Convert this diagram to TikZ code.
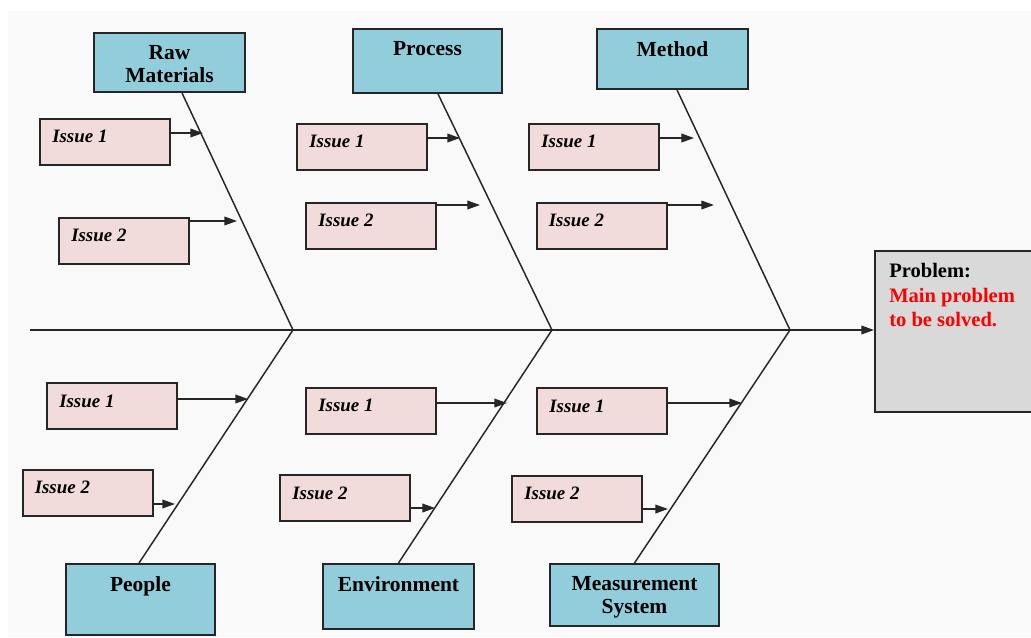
\documentclass[tikz,border=0pt]{standalone}
\usepackage{fontspec}
\setmainfont{Liberation Serif}
\usetikzlibrary{arrows.meta}
\definecolor{catblue}{HTML}{92CDDC}
\definecolor{issuepink}{HTML}{F2DCDB}
\definecolor{probgray}{HTML}{D9D9D9}
\definecolor{paper}{HTML}{F9F9F9}
\definecolor{ink}{HTML}{262626}
\definecolor{probred}{HTML}{FF0000}

\begin{document}
\begin{tikzpicture}[x=0.75pt,y=-0.75pt,
  box/.style={draw=ink, line width=1.5pt, inner sep=0pt, rectangle},
  catbox/.style={box, fill=catblue},
  issuebox/.style={box, fill=issuepink, minimum width=97.5pt, minimum height=34.5pt},
  cattext/.style={anchor=north, yshift=-9.75pt, inner sep=0pt, align=center,
    font=\fontsize{16.1pt}{17.25pt}\selectfont\bfseries},
  issuetext/.style={anchor=north west, xshift=9.75pt, yshift=-9.5pt, inner sep=0pt,
    font=\fontsize{14.2pt}{17pt}\selectfont\bfseries\itshape},
  probtext/.style={anchor=north west, xshift=11.25pt, yshift=-9.75pt, inner sep=0pt,
    align=left, font=\fontsize{15.4pt}{18.4pt}\selectfont\bfseries},
  bone/.style={draw=ink, line width=1.1pt},
  feed/.style={draw=ink, line width=1.1pt, -{Triangle[length=9.5pt,width=6.5pt]}},
]
\useasboundingbox (0,0) rectangle (1031,637);
\clip (0,0) rectangle (1031,637);
\fill[white] (0,0) rectangle (1031,637);
\fill[paper] (8,11) rectangle (1031,637);

% problem (head of the fish)
\node[box, fill=probgray, minimum width=119.25pt, minimum height=120.75pt,
  label={[probtext]north west:Problem:\\\textcolor{probred}{Main problem}\\\textcolor{probred}{to be solved.}}]
  (prob) at (954.5,331.5) {};

% cause categories
\node[catbox, minimum width=113.25pt, minimum height=44.25pt,
  label={[cattext]north:Raw\\Materials}] (raw) at (169.5,62.5) {};
\node[catbox, minimum width=111.75pt, minimum height=48pt,
  label={[cattext]north:Process}] (proc) at (427.5,61) {};
\node[catbox, minimum width=113.25pt, minimum height=45pt,
  label={[cattext]north:Method}] (meth) at (672.5,59) {};
\node[catbox, minimum width=111.75pt, minimum height=53.25pt,
  label={[cattext]north:People}] (peop) at (140.5,599.5) {};
\node[catbox, minimum width=113.25pt, minimum height=48.75pt,
  label={[cattext]north:Environment}] (envi) at (398.5,596.5) {};
\node[catbox, minimum width=126.75pt, minimum height=46.5pt,
  label={[cattext]north:Measurement\\System}] (meas) at (634.5,595) {};

% spine
\coordinate (tail) at (30,330);
\coordinate (j1) at (293,330);
\coordinate (j2) at (552,330);
\coordinate (j3) at (790,330);
\draw[feed] (tail) -- (tail -| prob.west);

% bones
\draw[bone] ([xshift=9.4pt]raw.south) -- (j1);
\draw[bone] ([xshift=7.9pt]proc.south) -- (j2);
\draw[bone] ([xshift=3.4pt]meth.south) -- (j3);
\draw[bone] ([xshift=-1.1pt]peop.north) -- (j1);
\draw[bone] (envi.north) -- (j2);
\draw[bone] (meas.north) -- (j3);

% issues
\node[issuebox, label={[issuetext]north west:Issue 1}] (ri1) at (105,141.5) {};
\node[issuebox, label={[issuetext]north west:Issue 2}] (ri2) at (124,240.5) {};
\node[issuebox, label={[issuetext]north west:Issue 1}] (pi1) at (362,146.5) {};
\node[issuebox, label={[issuetext]north west:Issue 2}] (pi2) at (371,225.5) {};
\node[issuebox, label={[issuetext]north west:Issue 1}] (mi1) at (594,146.5) {};
\node[issuebox, label={[issuetext]north west:Issue 2}] (mi2) at (601.5,225.5) {};
\node[issuebox, label={[issuetext]north west:Issue 1}] (pe1) at (112,406) {};
\node[issuebox, label={[issuetext]north west:Issue 2}] (pe2) at (87.5,492.5) {};
\node[issuebox, label={[issuetext]north west:Issue 1}] (en1) at (371,410.5) {};
\node[issuebox, label={[issuetext]north west:Issue 2}] (en2) at (345,498) {};
\node[issuebox, label={[issuetext]north west:Issue 1}] (ms1) at (602,411) {};
\node[issuebox, label={[issuetext]north west:Issue 2}] (ms2) at (577,498.5) {};

% arrow tips on the bones
\coordinate (ri1t) at (203,133);
\coordinate (ri2t) at (237,221);
\coordinate (pi1t) at (460,138);
\coordinate (pi2t) at (480,205);
\coordinate (mi1t) at (694,138);
\coordinate (mi2t) at (714,205);
\coordinate (pe1t) at (248,399);
\coordinate (pe2t) at (175,504);
\coordinate (en1t) at (507,403);
\coordinate (en2t) at (435,508);
\coordinate (ms1t) at (742,403);
\coordinate (ms2t) at (668,509);

\foreach \i in {ri1,ri2,pi1,pi2,mi1,mi2,pe1,pe2,en1,en2,ms1,ms2}
  \draw[feed] (\i t -| \i.east) -- (\i t);
\end{tikzpicture}
\end{document}
